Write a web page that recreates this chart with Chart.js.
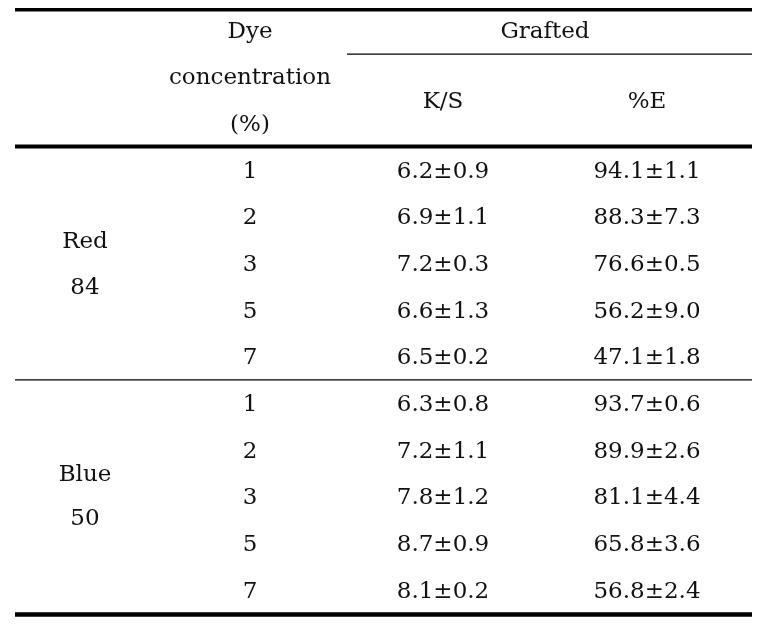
<!DOCTYPE html>
<html>
<head>
<meta charset="utf-8">
<script src="https://cdn.jsdelivr.net/npm/chart.js@4"></script>
<style>
  html, body { margin: 0; padding: 0; background: #fff; }
  #wrap { width: 781px; height: 630px; }
</style>
</head>
<body>
<div id="wrap"><canvas id="table-chart" width="781" height="630"></canvas></div>
<script>
// Table data
const dyeGroups = [['Red', '84'], ['Blue', '50']];
const concentrations = [1, 2, 3, 5, 7];
const ksMean = [6.2, 6.9, 7.2, 6.6, 6.5, 6.3, 7.2, 7.8, 8.7, 8.1];
const ksSd = [0.9, 1.1, 0.3, 1.3, 0.2, 0.8, 1.1, 1.2, 0.9, 0.2];
const eMean = [94.1, 88.3, 76.6, 56.2, 47.1, 93.7, 89.9, 81.1, 65.8, 56.8];
const eSd = [1.1, 7.3, 0.5, 9.0, 1.8, 0.6, 2.6, 4.4, 3.6, 2.4];
const headerLeft = ['Dye', 'concentration', '(%)'];
const headerGroup = 'Grafted';
const headerCols = ['K/S', '%E'];

// Column centres (in x-scale units) and table rules (in row units)
const COL = { group: 0.85, conc: 2.5, ks: 4.43, e: 6.47, left: 0.15, graftLeft: 3.47, right: 7.52 };
const FONT = '23px "DejaVu Serif", serif';

const fmt = (m, s) => m.toFixed(1) + '±' + s.toFixed(1);

// one "row" per concentration per dye
const rows = [];
dyeGroups.forEach((g, gi) => {
    concentrations.forEach((c, ci) => {
        const i = gi * concentrations.length + ci;
        rows.push({ y: i, conc: String(c), ks: fmt(ksMean[i], ksSd[i]), e: fmt(eMean[i], eSd[i]) });
    });
});

function textDataset(label, x, items) {
    return {
        label: label,
        data: items.map(it => ({ x: x, y: it.y, text: it.text })),
        pointRadius: 0,
        showLine: false
    };
}

const datasets = [
    textDataset('header-left', COL.conc, headerLeft.map((t, i) => ({ y: i - 3, text: t }))),
    textDataset('header-group', (COL.ks + COL.e) / 2, [{ y: -3, text: headerGroup }]),
    textDataset('header-ks', COL.ks, [{ y: -1.5, text: headerCols[0] }]),
    textDataset('header-e', COL.e, [{ y: -1.5, text: headerCols[1] }]),
    textDataset('group', COL.group, [
        { y: 1.5, text: dyeGroups[0][0] }, { y: 2.5, text: dyeGroups[0][1] },
        { y: 6.5, text: dyeGroups[1][0] }, { y: 7.45, text: dyeGroups[1][1] }
    ]),
    textDataset('conc', COL.conc, rows.map(r => ({ y: r.y, text: r.conc }))),
    textDataset('ks', COL.ks, rows.map(r => ({ y: r.y, text: r.ks }))),
    textDataset('e', COL.e, rows.map(r => ({ y: r.y, text: r.e })))
];

// Horizontal rules: [yValue, xFrom, xTo, lineWidth]
const rules = [
    [-3.45, COL.left, COL.right, 3.5],
    [-2.5, COL.graftLeft, COL.right, 1.2],
    [-0.52, COL.left, COL.right, 4],
    [4.48, COL.left, COL.right, 1.2],
    [9.51, COL.left, COL.right, 4.5]
];

const tablePlugin = {
    id: 'tablePlugin',
    afterDatasetsDraw(chart) {
        const ctx = chart.ctx;
        const xs = chart.scales.x, ys = chart.scales.y;
        ctx.save();
        ctx.strokeStyle = '#000';
        rules.forEach(([v, x0, x1, w]) => {
            const py = ys.getPixelForValue(v);
            ctx.lineWidth = w;
            ctx.beginPath();
            ctx.moveTo(xs.getPixelForValue(x0), py);
            ctx.lineTo(xs.getPixelForValue(x1), py);
            ctx.stroke();
        });
        ctx.fillStyle = '#111';
        ctx.font = FONT;
        ctx.textAlign = 'center';
        ctx.textBaseline = 'middle';
        chart.data.datasets.forEach((ds, di) => {
            const meta = chart.getDatasetMeta(di);
            meta.data.forEach((pt, i) => {
                ctx.fillText(ds.data[i].text, pt.x, pt.y + 1);
            });
        });
        ctx.restore();
    }
};

new Chart(document.getElementById('table-chart').getContext('2d'), {
    type: 'scatter',
    data: { datasets: datasets },
    options: {
        responsive: false,
        animation: false,
        layout: { padding: 0 },
        plugins: { legend: { display: false }, tooltip: { enabled: false } },
        scales: {
            x: { type: 'linear', min: 0, max: 7.81, display: false },
            y: { type: 'linear', min: -3.66, max: 9.84, reverse: true, display: false }
        }
    },
    plugins: [tablePlugin]
});
</script>
</body>
</html>
